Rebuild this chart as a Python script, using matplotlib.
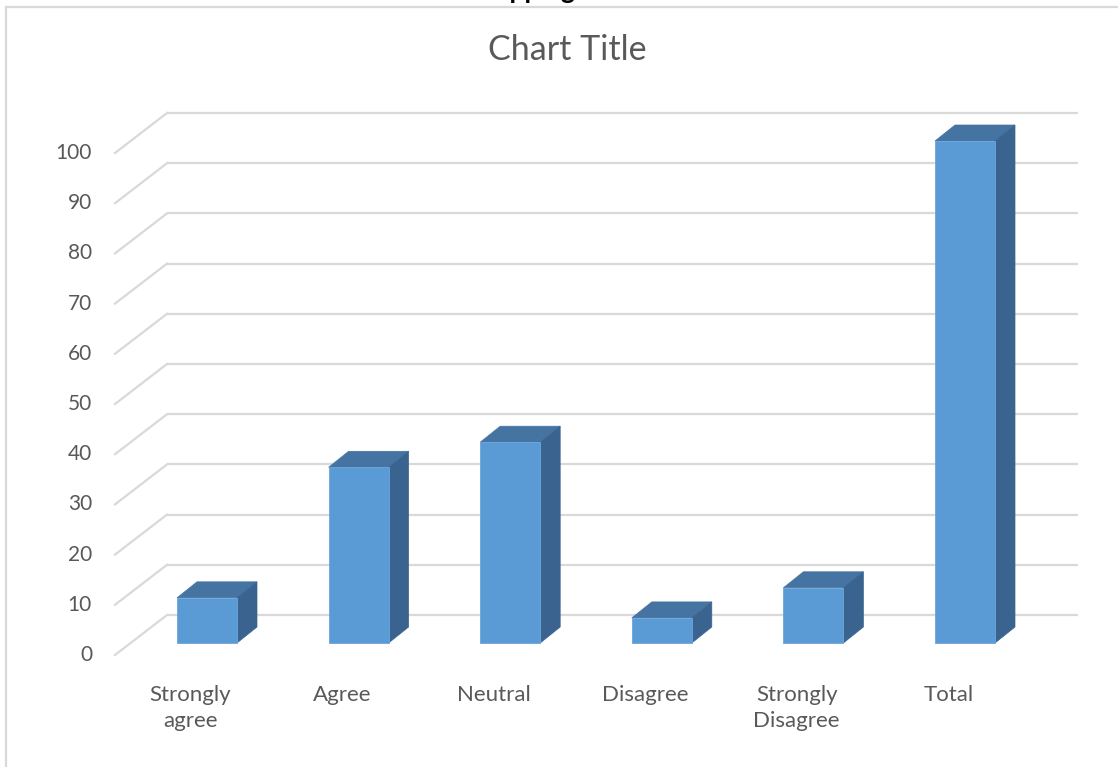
import matplotlib
matplotlib.use("Agg")
import matplotlib.pyplot as plt
from matplotlib.patches import Polygon
from matplotlib.lines import Line2D

categories = ["Strongly\nagree", "Agree", "Neutral", "Disagree", "Strongly\nDisagree", "Total"]
values = [9, 35, 40, 5, 11, 100]
tick_values = [0, 10, 20, 30, 40, 50, 60, 70, 80, 90, 100]
chart_title = "Chart Title"
cut_heading = "shopping one."

W, H = 1118, 767
# pixel geometry of the 3-D plot (layout only)
X0, DXC = 207.0, 151.6     # bar-center of first category, px per category
Y0, DYV = 643.0, 5.02      # base of bars (px from top), px per value unit

plt.rcParams['font.family'] = ['Lato', 'DejaVu Sans']
fig = plt.figure(figsize=(W / 100, H / 100), dpi=100)
ax = fig.add_axes([0, 0, 1, 1])
ax.set_xlim(-X0 / DXC, (W - X0) / DXC)
ax.set_ylim((Y0 - H) / DYV, Y0 / DYV)
ax.axis('off')

bar_w = 60 / DXC
ddx, ddy = 20 / DXC, 16 / DYV             # depth of bars
fr_dy = -12 / DYV                          # front floor edge offset from bar front plane
bk_dy = 28 / DYV                           # back wall offset from bar front plane
wall_left = (167 - X0) / DXC
wall_right = (1078 - X0) / DXC
front_left = wall_left - 52 / DXC

grid_c = '#d9d9d9'
text_c = '#595959'
for v in tick_values:
    ax.plot([wall_left, wall_right], [v + bk_dy, v + bk_dy], color=grid_c, lw=1.6, zorder=1,
            solid_capstyle='butt')
    ax.plot([front_left, wall_left], [v + fr_dy, v + bk_dy], color=grid_c, lw=1.6, zorder=1)
    ax.text(front_left - 23 / DXC, v + fr_dy, str(v), ha='right', va='center',
            fontsize=15, color=text_c)

front_c = '#5b9bd5'
top_c = '#4674a2'
side_c = '#3a648f'
for i, v in enumerate(values):
    x = i
    ax.bar(x, v, width=bar_w, color=front_c, edgecolor='#6aa6dc', linewidth=0.6, zorder=3)
    top = Polygon([(x - bar_w / 2, v), (x + bar_w / 2, v),
                   (x + bar_w / 2 + ddx, v + ddy), (x - bar_w / 2 + ddx, v + ddy)],
                  closed=True, facecolor=top_c, edgecolor=top_c, lw=0.5, zorder=2)
    side = Polygon([(x + bar_w / 2, 0), (x + bar_w / 2 + ddx, ddy),
                    (x + bar_w / 2 + ddx, v + ddy), (x + bar_w / 2, v)],
                   closed=True, facecolor=side_c, edgecolor=side_c, lw=0.5, zorder=2)
    ax.add_patch(top)
    ax.add_patch(side)
    ax.text(x - 0.11, -8.3, categories[i], ha='center', va='top', fontsize=16,
            color=text_c, linespacing=1.4)

fig.text(567 / W, 1 - 50 / H, chart_title, ha='center', va='center', fontsize=24.5, color=text_c)

# chart area border (left and top)
fig.add_artist(Line2D([6 / W, 6 / W], [0, 1 - 7 / H], color='#d9d9d9', lw=1.6))
fig.add_artist(Line2D([6 / W, 1], [1 - 7 / H, 1 - 7 / H], color='#d9d9d9', lw=1.6))

# heading above the chart, cut by the top edge as in the source image
fig.text(550 / W, 1 + 1 / H, cut_heading, ha='center', va='baseline', fontsize=19,
         fontweight='bold', color='black')

fig.savefig('out.png', dpi=100)
